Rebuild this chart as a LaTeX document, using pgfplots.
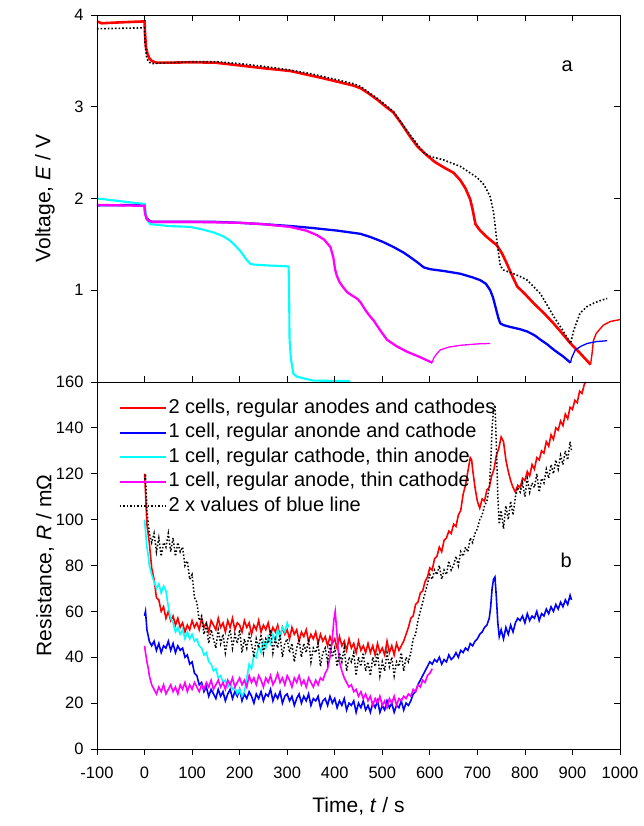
\documentclass[border=0pt]{standalone}
\usepackage{fontspec}
\setmainfont{Liberation Sans}
\usepackage{pgfplots}
\pgfplotsset{compat=1.18}
\definecolor{cR}{RGB}{255,0,0}
\definecolor{cB}{RGB}{0,0,255}
\definecolor{cC}{RGB}{0,255,255}
\definecolor{cM}{RGB}{255,0,255}
\pgfplotsset{
  panel/.style={width=523pt, height=367pt, scale only axis, xmin=-100, xmax=1000,
    axis line style={line width=0.8pt, black},
    major tick length=6pt,
    every tick/.style={black, line width=0.8pt},
    tick label style={font=\fontsize{16.5}{19}\selectfont},
    /pgf/number format/assume math mode=true,
    /pgf/number format/1000 sep={}},
  overlay/.style={panel, tick align=inside, xticklabels={}, yticklabels={}},
}
\begin{document}
\begin{tikzpicture}
\path[use as bounding box] (-97pt,-77pt) rectangle (546pt,749pt);
% ---------------- top panel ----------------
\begin{axis}[panel, at={(0,367pt)}, ymin=0, ymax=4, ytick={1,2,3,4},
  xtick=\empty, tick align=outside, ytick pos=left, xticklabels={},
  yticklabel style={xshift=-4pt},
  ylabel={Voltage, \textit{E} / V},
  every axis y label/.style={at={(axis description cs:0,0.5)}, xshift=-52pt, rotate=90, anchor=center, font=\fontsize{21}{25}\selectfont}]
\addplot[cR, line width=2.6pt] coordinates {(-100,3.93)(-90,3.91)(-50,3.92)(0,3.93)(1,3.80)(3,3.65)(6,3.58)(10,3.53)(15,3.50)(25,3.48)(50,3.48)(100,3.485)(150,3.48)(200,3.45)(250,3.42)(306,3.39)(350,3.34)(376,3.31)(400,3.28)(420,3.255)(440,3.23)(455,3.20)(470,3.15)(490,3.075)(510,2.99)(523,2.94)(540,2.82)(559,2.67)(575,2.56)(594,2.47)(610,2.40)(629,2.34)(650,2.28)(664,2.20)(675,2.11)(685,1.99)(690,1.88)(696,1.72)(706,1.65)(720,1.58)(741,1.49)(752,1.40)(762,1.29)(773,1.16)(784,1.04)(800,0.96)(818,0.86)(840,0.75)(860,0.64)(880,0.52)(896,0.42)(915,0.32)(938,0.19)};
\addplot[cR, line width=1.4pt] coordinates {(938,0.19)(941,0.30)(944,0.45)(950,0.53)(965,0.62)(980,0.66)(1000,0.68)};
\addplot[cB, line width=2.3pt] coordinates {(-100,1.925)(0,1.93)(1,1.85)(4,1.79)(8,1.765)(15,1.745)(50,1.745)(100,1.745)(150,1.745)(200,1.735)(250,1.72)(306,1.70)(350,1.68)(405,1.65)(454,1.615)(475,1.58)(500,1.53)(524,1.47)(545,1.41)(559,1.36)(575,1.30)(587,1.25)(600,1.23)(629,1.21)(664,1.18)(690,1.14)(706,1.11)(718,1.07)(727,1.00)(733,0.92)(738,0.82)(744,0.70)(748,0.64)(755,0.62)(769,0.60)(790,0.575)(805,0.55)(820,0.51)(833,0.46)(847,0.41)(861,0.35)(880,0.28)(896,0.21)};
\addplot[cB, line width=1.3pt] coordinates {(896,0.21)(898,0.26)(906,0.35)(918,0.39)(931,0.42)(950,0.44)(973,0.45)};
\addplot[cC, line width=2.1pt] coordinates {(-100,2.0)(-50,1.97)(0,1.94)(2,1.85)(5,1.77)(12,1.72)(50,1.70)(96,1.69)(120,1.665)(145,1.63)(165,1.59)(180,1.54)(192,1.48)(201,1.43)(208,1.38)(215,1.33)(222,1.29)(229,1.28)(260,1.27)(303,1.26)(304,1.0)(305,0.46)(308,0.25)(313,0.09)(320,0.06)(334,0.04)(355,0.015)(433,0.01)};
\addplot[cM, line width=2.3pt] coordinates {(-100,1.93)(0,1.92)(1,1.84)(4,1.78)(8,1.76)(15,1.745)(100,1.745)(200,1.735)(250,1.72)(306,1.69)(340,1.65)(363,1.60)(378,1.55)(391,1.47)(397,1.36)(401,1.22)(405,1.15)(410,1.09)(418,1.03)(426,0.98)(437,0.94)(447,0.91)(454,0.87)(465,0.78)(475,0.71)(482,0.67)(496,0.56)(510,0.46)(530,0.39)(552,0.33)(580,0.27)(605,0.21)};
\addplot[cM, line width=1.3pt] coordinates {(605,0.21)(608,0.26)(615,0.31)(622,0.35)(640,0.38)(664,0.40)(700,0.415)(727,0.42)};
\addplot[black, dotted, line width=1.6pt] coordinates {(-100,3.85)(0,3.86)(1,3.7)(4,3.55)(8,3.49)(15,3.47)(50,3.48)(100,3.49)(150,3.49)(200,3.47)(250,3.44)(306,3.40)(350,3.36)(400,3.30)(440,3.25)(455,3.22)(470,3.16)(490,3.09)(523,2.95)(559,2.69)(587,2.50)(600,2.46)(629,2.42)(664,2.35)(699,2.23)(714,2.15)(727,2.02)(734,1.85)(741,1.54)(748,1.27)(755,1.22)(776,1.18)(790,1.15)(805,1.11)(833,0.96)(861,0.71)(880,0.56)(896,0.42)(903,0.57)(916,0.75)(930,0.82)(945,0.86)(960,0.89)(973,0.91)};
\node[font=\fontsize{20}{24}\selectfont] at (axis description cs:0.899,0.861) {a};
\end{axis}
\begin{axis}[overlay, at={(0,367pt)}, ymin=0, ymax=4, ytick={1,2,3,4},
  xtick={-100,0,...,1000}, xtick pos=both, ytick pos=right]
\end{axis}
% ---------------- bottom panel ----------------
\begin{axis}[panel, at={(0,0)}, ymin=0, ymax=160, ytick={0,20,...,160},
  xtick={-100,0,...,1000}, tick align=outside, xtick pos=left, ytick pos=left,
  xticklabels={-100,0,100,200,300,400,500,600,700,800,900,1000},
  yticklabel style={xshift=-4pt}, xticklabel style={yshift=-8pt},
  ylabel={Resistance, \textit{R} / mΩ},
  xlabel={Time, \textit{t} / s},
  every axis y label/.style={at={(axis description cs:0,0.5)}, xshift=-52pt, rotate=90, anchor=center, font=\fontsize{21}{25}\selectfont},
  every axis x label/.style={at={(axis description cs:0.5,0)}, yshift=-57pt, anchor=center, font=\fontsize{21}{25}\selectfont},
  legend cell align=left,
  legend image code/.code={\draw[#1, line width=2pt] (0pt,0pt) -- (46pt,0pt);},
  legend style={at={(axis description cs:0.035,0.96)}, anchor=north west, draw=none, fill=none,
    font=\fontsize{20}{24}\selectfont, row sep=5.5pt,
    nodes={inner ysep=0pt, text height=14.5pt, text depth=4.5pt}}]
\addplot[cR, line width=1.6pt] coordinates {(0,120)(2,112)(5,98)(10,90)(15,79)(20,74)(25,66)(30,65)(35,60)(40,62)(45,57)(50,60)(55,56)(60,58)(65,54)(70,57)(75,53)(80,55)(85,51)(90,54)(95,52)(100,56)(105,53)(110,55)(115,52)(120,57)(125,53)(130,55)(135,51)(140,56)(145,54)(150,52)(155,57)(160,53)(165,55)(170,51)(175,56)(180,53)(185,57)(190,52)(195,55)(200,54)(205,51)(210,56)(215,53)(220,55)(225,50)(230,54)(235,52)(240,56)(245,51)(250,54)(255,52)(260,55)(265,50)(270,53)(275,51)(280,54)(285,49)(290,53)(295,50)(300,52)(305,48)(310,53)(315,50)(320,52)(325,47)(330,51)(335,49)(340,52)(345,47)(350,50)(355,48)(360,51)(365,46)(370,50)(375,47)(380,49)(385,45)(390,49)(395,46)(400,48)(405,44)(410,49)(415,45)(420,47)(425,43)(430,48)(435,44)(440,46)(445,42)(450,47)(455,43)(460,45)(465,42)(470,46)(475,42)(480,45)(485,41)(490,46)(495,42)(500,44)(505,41)(510,47)(515,42)(520,45)(525,41)(530,46)(535,43)(540,45)(545,47)(550,50)(555,53)(560,57)(565,58)(570,63)(575,64)(580,68)(585,69)(590,73)(595,75)(600,79)(605,78)(610,83)(615,84)(620,88)(625,86)(630,91)(635,92)(640,95)(645,94)(650,98)(655,97)(660,102)(665,104)(670,111)(675,115)(680,121)(685,127)(688,126)(690,122)(695,114)(700,108)(705,105)(710,109)(715,108)(720,113)(725,114)(730,119)(735,122)(740,128)(745,131)(750,136)(755,134)(760,126)(765,121)(770,117)(775,114)(780,112)(785,115)(790,114)(795,118)(800,117)(805,121)(810,119)(815,124)(820,122)(825,127)(830,126)(835,130)(840,129)(845,134)(850,132)(855,137)(860,135)(865,140)(870,139)(875,143)(880,141)(885,146)(890,144)(895,149)(900,148)(905,152)(910,151)(915,156)(920,155)(925,159)(928,160)};
\addlegendentry{2 cells, regular anodes and cathodes}
\addplot[cB, line width=1.6pt] coordinates {(0,58)(2,60)(5,52)(10,47)(15,45)(20,47)(25,43)(30,46)(35,42)(40,45)(45,44)(50,47)(55,43)(60,46)(65,42)(70,45)(75,43)(80,44)(85,40)(90,41)(95,37)(100,38)(105,33)(110,32)(115,28)(120,29)(125,25)(130,27)(135,23)(140,26)(145,24)(150,22)(155,26)(160,23)(165,25)(170,21)(175,24)(180,26)(185,22)(190,25)(195,23)(200,26)(205,21)(210,24)(215,22)(220,25)(225,23)(230,20)(235,24)(240,22)(245,25)(250,21)(255,24)(260,23)(265,26)(270,21)(275,24)(280,22)(285,25)(290,20)(295,23)(300,24)(305,21)(310,23)(315,19)(320,22)(325,24)(330,20)(335,23)(340,21)(345,24)(350,19)(355,22)(360,21)(365,23)(370,18)(375,21)(380,22)(385,19)(390,23)(395,20)(400,22)(405,18)(410,21)(415,19)(420,22)(425,17)(430,20)(435,19)(440,21)(445,16)(450,20)(455,18)(460,21)(465,17)(470,19)(475,16)(480,20)(485,18)(490,21)(495,16)(500,19)(505,17)(510,21)(515,18)(520,20)(525,16)(530,19)(535,18)(540,21)(545,17)(550,20)(555,19)(560,21)(565,24)(570,25)(575,28)(580,30)(585,32)(590,34)(595,36)(600,38)(605,37)(610,39)(615,38)(620,40)(625,37)(630,39)(635,38)(640,41)(645,39)(650,40)(655,42)(660,40)(665,43)(670,42)(675,44)(680,43)(685,46)(690,45)(695,47)(700,48)(705,50)(710,51)(715,53)(720,54)(725,57)(728,62)(731,70)(734,74)(737,75)(740,66)(743,55)(746,49)(750,52)(755,48)(760,53)(765,50)(770,54)(775,51)(780,55)(785,57)(790,56)(795,58)(800,55)(805,59)(810,56)(815,58)(820,57)(825,60)(830,56)(835,59)(840,58)(845,61)(850,59)(855,62)(860,60)(865,63)(870,61)(875,64)(880,62)(885,65)(890,63)(895,67)(898,65)};
\addlegendentry{1 cell, regular anonde and cathode}
\addplot[cC, line width=1.6pt] coordinates {(0,100)(2,95)(5,88)(8,84)(10,80)(15,76)(20,73)(25,70)(30,72)(35,68)(40,71)(45,69)(50,62)(55,57)(60,55)(65,51)(70,53)(75,50)(80,52)(85,48)(90,51)(95,48)(100,50)(105,47)(110,48)(115,45)(120,44)(125,41)(130,42)(135,38)(140,37)(145,34)(150,35)(155,31)(160,32)(165,29)(170,30)(175,27)(180,29)(185,26)(190,27)(195,24)(200,26)(205,23)(210,25)(215,31)(220,37)(225,35)(230,41)(235,40)(240,45)(245,42)(250,47)(255,44)(260,49)(265,46)(270,50)(275,47)(280,52)(285,49)(290,53)(295,51)(300,55)(303,53)};
\addlegendentry{1 cell, regular cathode, thin anode}
\addplot[cM, line width=1.6pt] coordinates {(0,45)(2,42)(5,38)(8,35)(10,32)(15,28)(20,26)(25,24)(30,27)(35,25)(40,28)(45,24)(50,26)(55,28)(60,25)(65,27)(70,24)(75,28)(80,26)(85,29)(90,25)(95,28)(100,26)(105,29)(110,27)(115,25)(120,28)(125,26)(130,29)(135,27)(140,30)(145,26)(150,28)(155,30)(160,27)(165,29)(170,26)(175,30)(180,28)(185,31)(190,27)(195,29)(200,31)(205,28)(210,30)(215,27)(220,32)(225,29)(230,31)(235,28)(240,32)(245,30)(250,27)(255,31)(260,29)(265,32)(270,28)(275,30)(280,33)(285,29)(290,31)(295,28)(300,32)(305,30)(310,27)(315,31)(320,29)(325,32)(330,28)(335,30)(340,27)(345,31)(350,29)(355,27)(360,30)(365,28)(370,31)(375,30)(380,33)(385,35)(390,40)(395,48)(398,56)(401,60)(404,52)(407,44)(410,38)(415,34)(420,31)(425,29)(430,27)(435,28)(440,25)(445,26)(450,23)(455,25)(460,22)(465,24)(470,21)(475,23)(480,19)(485,22)(490,20)(495,23)(500,19)(505,21)(510,18)(515,22)(520,20)(525,23)(530,19)(535,22)(540,21)(545,23)(550,22)(555,24)(560,23)(565,26)(570,25)(575,28)(580,27)(585,30)(590,29)(595,32)(600,33)(605,35)};
\addlegendentry{1 cell, regular anode, thin cathode}
\addplot[black, dotted, line width=1.5pt] coordinates {(0,116)(2,120)(5,104)(10,94)(15,90)(20,94)(25,86)(30,92)(35,84)(40,90)(45,88)(50,94)(55,86)(60,92)(65,84)(70,90)(75,86)(80,88)(85,80)(90,82)(95,74)(100,76)(105,66)(110,64)(115,56)(120,58)(125,50)(130,54)(135,46)(140,52)(145,48)(150,44)(155,52)(160,46)(165,50)(170,42)(175,48)(180,52)(185,44)(190,50)(195,46)(200,52)(205,42)(210,48)(215,44)(220,50)(225,46)(230,40)(235,48)(240,44)(245,50)(250,42)(255,48)(260,46)(265,52)(270,42)(275,48)(280,44)(285,50)(290,40)(295,46)(300,48)(305,42)(310,46)(315,38)(320,44)(325,48)(330,40)(335,46)(340,42)(345,48)(350,38)(355,44)(360,42)(365,46)(370,36)(375,42)(380,44)(385,38)(390,46)(395,40)(400,44)(405,36)(410,42)(415,38)(420,44)(425,34)(430,40)(435,38)(440,42)(445,32)(450,40)(455,36)(460,42)(465,34)(470,38)(475,32)(480,40)(485,36)(490,42)(495,32)(500,38)(505,34)(510,42)(515,36)(520,40)(525,32)(530,38)(535,36)(540,42)(545,34)(550,40)(555,38)(560,42)(565,48)(570,50)(575,56)(580,60)(585,64)(590,68)(595,72)(600,76)(605,74)(610,78)(615,76)(620,80)(625,74)(630,78)(635,76)(640,82)(645,78)(650,80)(655,84)(660,80)(665,86)(670,84)(675,88)(680,86)(685,92)(690,90)(695,94)(700,96)(705,100)(710,102)(715,106)(720,108)(725,114)(728,124)(731,140)(734,148)(737,150)(740,132)(743,110)(746,98)(750,104)(755,96)(760,106)(765,100)(770,108)(775,102)(780,110)(785,114)(790,112)(795,116)(800,110)(805,118)(810,112)(815,116)(820,114)(825,120)(830,112)(835,118)(840,116)(845,122)(850,118)(855,124)(860,120)(865,126)(870,122)(875,128)(880,124)(885,130)(890,126)(895,134)(898,130)};
\addlegendentry{2 x values of blue line}
\node[font=\fontsize{20}{24}\selectfont] at (axis description cs:0.897,0.515) {b};
\end{axis}
\begin{axis}[overlay, at={(0,0)}, ymin=0, ymax=160, ytick={20,40,...,140},
  xtick=\empty, ytick pos=right]
\end{axis}
\end{tikzpicture}
\end{document}
